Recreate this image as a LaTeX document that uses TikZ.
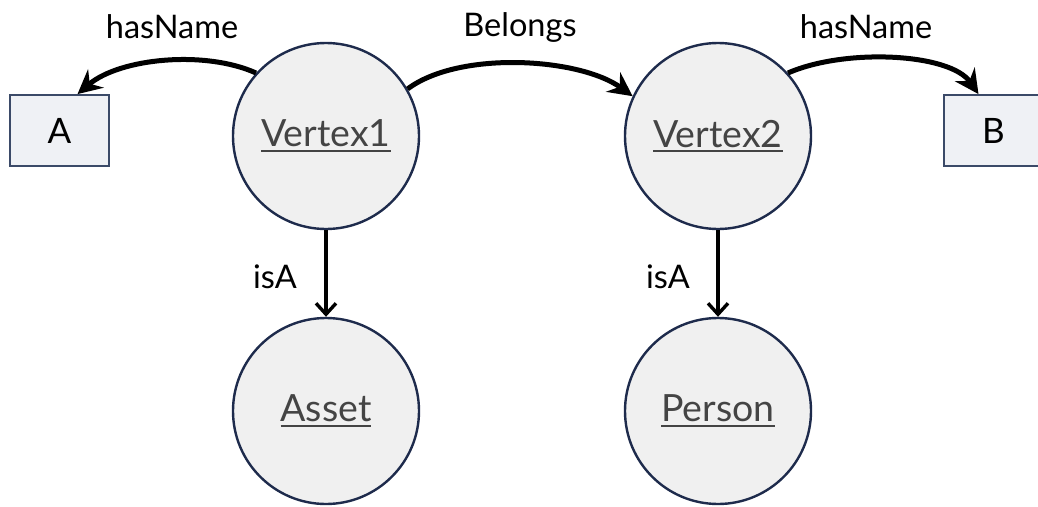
\documentclass[tikz,border=0pt]{standalone}
\usepackage{fontspec}
\setmainfont{Lato}
\usetikzlibrary{arrows.meta}
\definecolor{ringcol}{HTML}{1E2B4C}
\definecolor{vfill}{HTML}{F0F0F0}
\definecolor{boxfill}{HTML}{EFF1F5}
\definecolor{boxline}{HTML}{3B4A68}
\definecolor{vtext}{HTML}{444444}
% underline with a thicker rule
\newcommand\uword[1]{\setbox0\hbox{#1}\rlap{\copy0}\rule[-5pt]{\wd0}{2.4pt}}
\begin{document}
\begin{tikzpicture}[x=1pt,y=-1pt,
  vertex/.style={circle,draw=ringcol,line width=2.4pt,fill=vfill,minimum size=186pt,inner sep=0pt,
    font=\fontsize{37.5}{42}\selectfont,text=vtext},
  valbox/.style={rectangle,draw=boxline,line width=1.8pt,fill=boxfill,minimum width=99pt,minimum height=71pt,
    inner sep=0pt,font=\fontsize{35}{38}\selectfont},
  rel/.style={line width=5pt,-{Stealth[length=24pt,width=24pt,inset=8pt]}},
  isa/.style={line width=3.4pt,-{Straight Barb[length=11pt,width=20pt,line width=3.4pt]}},
  lbl/.style={font=\fontsize{32.5}{36}\selectfont,inner sep=0pt}]
\useasboundingbox (0,0) rectangle (1038,506);

\node[vertex] (v1) at (326,136) {\uword{Vertex1}};
\node[vertex] (v2) at (718,136) {\uword{Vertex2}};
\node[vertex] (asset) at (326,411) {\uword{Asset}};
\node[vertex] (person) at (718,411) {\uword{Person}};
\node[valbox] (a) at (59.5,130.5) {A};
\node[valbox] (b) at (993.5,130.5) {B};

% labelled relations
\draw[rel] (v1.138) .. controls (205,50) and (120,58) .. ([xshift=18pt]a.north);
\draw[rel] (v1.30) .. controls (460,50) and (580,58) .. (v2.155);
\draw[rel] (v2.42) .. controls (845,48) and (950,53) .. ([xshift=-15pt]b.north);
\draw[isa] (v1) -- (asset);
\draw[isa] (v2) -- (person);

\node[lbl] at (172,27) {hasName};
\node[lbl] at (520,27) {Belongs};
\node[lbl] at (866,27) {hasName};
\node[lbl] at (275,277) {isA};
\node[lbl] at (668,277) {isA};
\end{tikzpicture}
\end{document}
